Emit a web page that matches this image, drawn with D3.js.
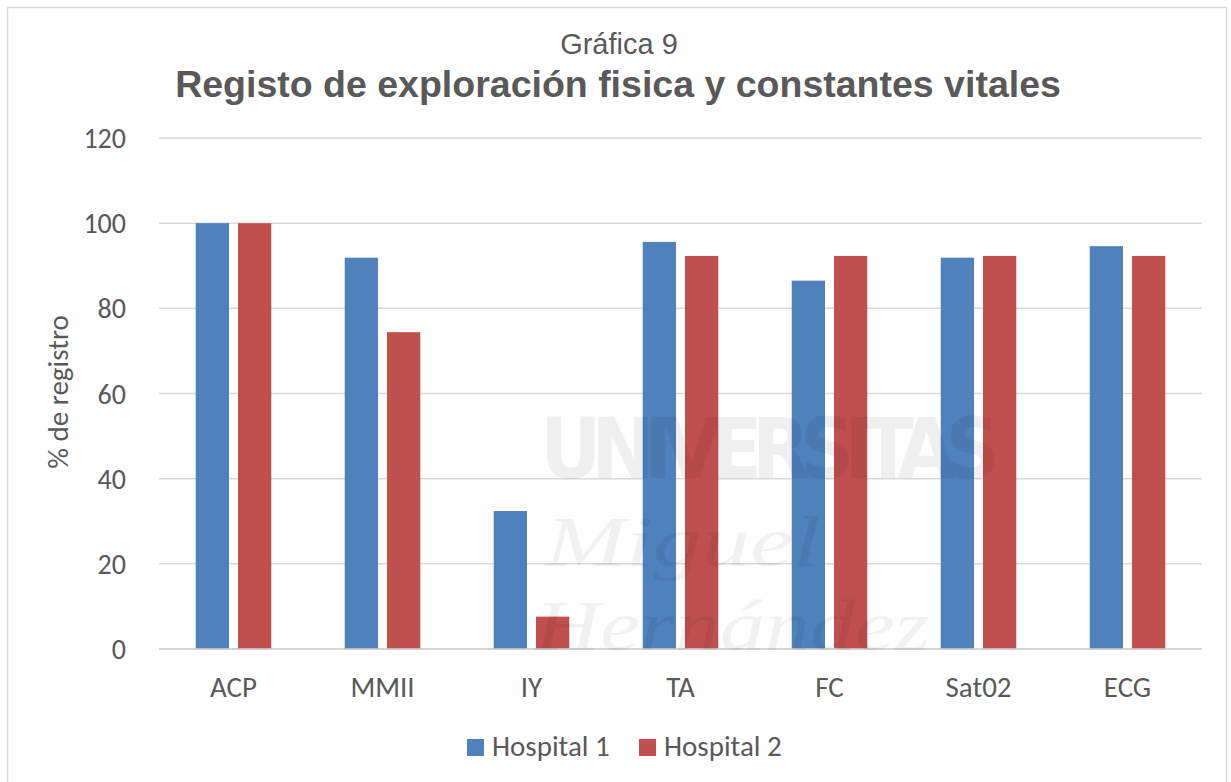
<!DOCTYPE html>
<html>
<head>
  <meta charset="utf-8">
  <title>Gráfica 9</title>
  <script src="https://d3js.org/d3.v7.min.js"></script>
  <style>
    body { margin: 0; background: #fff; }
    text { fill: #595959; }
    .tick-label, .cat-label, .legend-text, .axis-title { font-family: Carlito, Lato, "Open Sans", sans-serif; }
    .title, .subtitle { font-family: "Liberation Sans", Arial, sans-serif; }
  </style>
</head>
<body>
  <div id="chart"></div>
  <script>
    // data
    const categories = ["ACP", "MMII", "IY", "TA", "FC", "Sat02", "ECG"];
    const seriesNames = ["Hospital 1", "Hospital 2"];
    const hospital1 = [100, 91.9, 32.4, 95.6, 86.5, 91.9, 94.6];
    const hospital2 = [100, 74.4, 7.6, 92.3, 92.3, 92.3, 92.3];
    const yTicks = [0, 20, 40, 60, 80, 100, 120];
    const colors = ["#4f81bd", "#c0504d"];

    const width = 1231;
    const height = 782;
    const margin = { left: 159, right: 29, top: 138, bottom: 133 };

    const svg = d3.select("#chart")
      .append("svg")
      .attr("width", width)
      .attr("height", height);

    // outer frame
    svg.append("rect")
      .attr("x", 7.5).attr("y", 7.5)
      .attr("width", 1219).attr("height", 800)
      .attr("fill", "none")
      .attr("stroke", "#d9d9d9")
      .attr("stroke-width", 1.5);

    // titles
    svg.append("text")
      .attr("class", "subtitle")
      .attr("x", 619).attr("y", 54)
      .attr("text-anchor", "middle")
      .style("font-size", "29px")
      .text("Gráfica 9");

    svg.append("text")
      .attr("class", "title")
      .attr("x", 618).attr("y", 97)
      .attr("text-anchor", "middle")
      .style("font-size", "37.5px")
      .style("font-weight", "bold")
      .text("Registo de exploración fisica y constantes vitales");

    const x0 = d3.scaleBand()
      .domain(categories)
      .range([margin.left, width - margin.right])
      .padding(0);

    const x1 = d3.scaleBand()
      .domain(seriesNames)
      .range([0, x0.bandwidth()])
      .paddingInner(0.213)
      .paddingOuter(0.868);

    const y = d3.scaleLinear()
      .domain([0, 120])
      .range([height - margin.bottom, margin.top]);

    // gridlines
    svg.append("g")
      .selectAll("line")
      .data(yTicks)
      .join("line")
      .attr("x1", margin.left)
      .attr("x2", width - margin.right)
      .attr("y1", d => y(d))
      .attr("y2", d => y(d))
      .attr("stroke", "#d9d9d9")
      .attr("stroke-width", 1.5);

    // y tick labels
    svg.append("g")
      .selectAll("text")
      .data(yTicks)
      .join("text")
      .attr("class", "tick-label")
      .attr("x", 126)
      .attr("y", d => y(d))
      .attr("dy", "0.36em")
      .attr("text-anchor", "end")
      .style("font-size", "28px")
      .text(d => d);

    // y axis title
    svg.append("text")
      .attr("class", "axis-title")
      .attr("transform", "translate(68,392) rotate(-90)")
      .attr("text-anchor", "middle")
      .style("font-size", "29px")
      .text("% de registro");

    // bars
    const rows = categories.map((c, i) => ({
      category: c,
      values: [
        { key: seriesNames[0], value: hospital1[i], color: colors[0] },
        { key: seriesNames[1], value: hospital2[i], color: colors[1] }
      ]
    }));

    const groups = svg.append("g")
      .selectAll("g")
      .data(rows)
      .join("g")
      .attr("transform", d => `translate(${x0(d.category)},0)`);

    groups.selectAll("rect")
      .data(d => d.values)
      .join("rect")
      .attr("x", d => x1(d.key))
      .attr("y", d => y(d.value))
      .attr("width", x1.bandwidth())
      .attr("height", d => y(0) - y(d.value))
      .attr("fill", d => d.color);

    // baseline
    svg.append("line")
      .attr("x1", margin.left)
      .attr("x2", width - margin.right)
      .attr("y1", y(0))
      .attr("y2", y(0))
      .attr("stroke", "#d0d0d0")
      .attr("stroke-width", 1.5);

    // category labels
    svg.append("g")
      .selectAll("text")
      .data(categories)
      .join("text")
      .attr("class", "cat-label")
      .attr("x", d => x0(d) + x0.bandwidth() / 2)
      .attr("y", 697)
      .attr("text-anchor", "middle")
      .style("font-size", "29px")
      .text(d => d);

    // watermark text over the bars, very light
    const wm = svg.append("g").attr("pointer-events", "none");
    wm.append("text")
      .attr("x", 540).attr("y", 478)
      .style("font-family", "'Liberation Sans Narrow', 'DejaVu Sans Condensed', sans-serif")
      .style("font-weight", "bold")
      .style("font-size", "84px")
      .attr("textLength", 460)
      .style("fill", "#000")
      .style("opacity", 0.06)
      .text("UNIVERSITAS");
    wm.append("text")
      .attr("transform", "translate(545,566) scale(1.35,1)")
      .style("font-family", "'Liberation Serif', serif")
      .style("font-style", "italic")
      .style("font-size", "72px")
      .style("fill", "#000")
      .style("opacity", 0.05)
      .text("Miguel");
    wm.append("text")
      .attr("transform", "translate(535,650) scale(1.25,1)")
      .style("font-family", "'Liberation Serif', serif")
      .style("font-style", "italic")
      .style("font-size", "72px")
      .style("fill", "#000")
      .style("opacity", 0.05)
      .text("Hernández");

    // legend
    const legend = svg.append("g")
      .selectAll("g")
      .data(seriesNames)
      .join("g")
      .attr("transform", (d, i) => `translate(${467 + i * 172},739)`);

    legend.append("rect")
      .attr("width", 17)
      .attr("height", 17)
      .attr("fill", (d, i) => colors[i]);

    legend.append("text")
      .attr("class", "legend-text")
      .attr("x", 25)
      .attr("y", 17)
      .style("font-size", "29px")
      .text(d => d);
  </script>
</body>
</html>
